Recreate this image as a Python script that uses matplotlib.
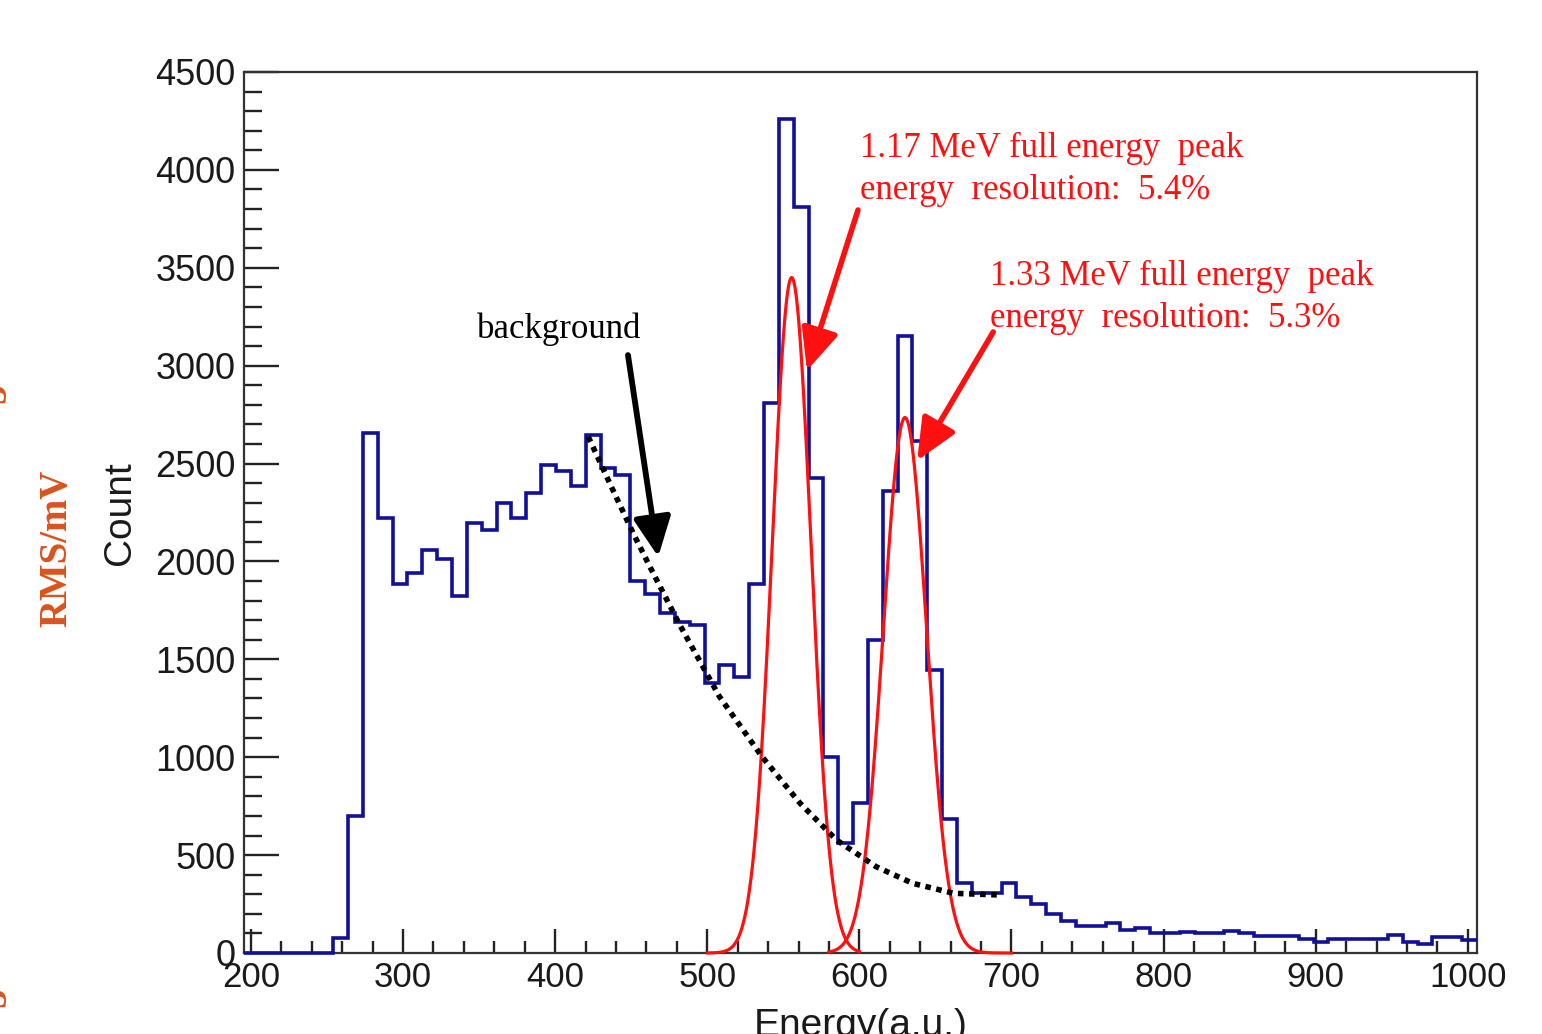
import numpy as np
import matplotlib.pyplot as plt

# histogram: 83 bins between 195.5 and 1006
x_lo, x_hi = 195.5, 1006.0
counts = [0, 0, 0, 0, 0, 0, 75, 700, 2655, 2222,
          1884, 1943, 2061, 2012, 1825, 2197, 2160, 2296, 2224, 2350,
          2495, 2462, 2386, 2647, 2477, 2440, 1900, 1835, 1735, 1690,
          1675, 1377, 1471, 1408, 1883, 2810, 4260, 3810, 2425, 1000,
          563, 764, 1599, 2360, 3150, 2615, 1445, 683, 356, 305,
          305, 356, 288, 249, 198, 165, 140, 138, 152, 117,
          129, 100, 100, 108, 100, 100, 112, 100, 85, 85,
          85, 73, 55, 70, 70, 70, 70, 92, 58, 46,
          83, 83, 66]

# gaussian fits of the two full energy peaks
peak_mean = [555.5, 630.0]
peak_height = [3450, 2735]
peak_res = [0.054, 0.053]          # FWHM / mean
peak_range = [(500, 600), (580, 700)]

# background curve
bg_x = [421.8, 437, 451.4, 462.3, 482, 508, 536, 561, 585, 611, 635, 662, 693]
bg_y = [2637, 2381, 2143, 1973, 1675, 1310, 1003, 765, 577, 441, 356, 305, 296]

xticks = [200, 300, 400, 500, 600, 700, 800, 900, 1000]
yticks = [0, 500, 1000, 1500, 2000, 2500, 3000, 3500, 4000, 4500]

sans = 'Liberation Sans'
serif = 'Liberation Serif'
blue = '#10109a'
red = '#ff1010'
orange = '#d9541e'

fig = plt.figure(figsize=(15.42, 10.34), dpi=100)
ax = fig.add_axes([244 / 1542, 1 - 953 / 1034, (1477 - 244) / 1542, (953 - 72) / 1034])

edges = np.linspace(x_lo, x_hi, len(counts) + 1)
ax.stairs(counts, edges, baseline=None, color=blue, lw=2.6, zorder=3, clip_on=False)

for m, h, r, (a, b) in zip(peak_mean, peak_height, peak_res, peak_range):
    sig = r * m / 2.3548
    xx = np.linspace(a, b, 400)
    ax.plot(xx, h * np.exp(-0.5 * ((xx - m) / sig) ** 2), color=red, lw=2.3,
            zorder=4, clip_on=False)

ax.plot(bg_x, bg_y, color='black', lw=4, linestyle=(0, (1.0, 1.0)), zorder=5)

ax.set_xlim(x_lo, x_hi)
ax.set_ylim(0, 4500)
ax.set_xticks(xticks)
ax.set_yticks(yticks)
ax.set_xticks(np.arange(200, 1001, 20), minor=True)
ax.set_yticks(np.arange(0, 4501, 100), minor=True)
ax.tick_params(axis='both', which='both', direction='in', top=False, right=False,
               color='#222222')
ax.tick_params(axis='y', which='major', length=25, width=1.7, pad=6, labelsize=26)
ax.tick_params(axis='y', which='minor', length=13, width=1.7)
ax.tick_params(axis='x', which='major', length=17, width=1.7, pad=6, labelsize=25)
ax.tick_params(axis='x', which='minor', length=8.5, width=1.7)
for lab in ax.get_xticklabels() + ax.get_yticklabels():
    lab.set_fontfamily(sans)
    lab.set_color('#1a1a1a')
for sp in ax.spines.values():
    sp.set_linewidth(1.6)
    sp.set_color('#333333')

# annotations
ax.text(600.4, 4065, '1.17 MeV full energy  peak', color=red, family=serif, fontsize=25)
ax.text(600.4, 3850, 'energy  resolution:  5.4%', color=red, family=serif, fontsize=25)
ax.text(686, 3410, '1.33 MeV full energy  peak', color=red, family=serif, fontsize=25)
ax.text(686, 3195, 'energy  resolution:  5.3%', color=red, family=serif, fontsize=25)
ax.text(348.6, 3140, 'background', color='black', family=serif, fontsize=25)

arrow_red = dict(arrowstyle='-|>,head_length=0.85,head_width=0.38', color=red,
                 lw=4, mutation_scale=30, shrinkA=0, shrinkB=0)
ax.annotate('', xy=(565.5, 2975), xytext=(599.1, 3795), arrowprops=arrow_red)
ax.annotate('', xy=(638, 2515), xytext=(688, 3172), arrowprops=arrow_red)
arrow_blk = dict(arrowstyle='-|>,head_length=0.8,head_width=0.38', color='black',
                 lw=4.2, mutation_scale=30, shrinkA=0, shrinkB=0)
ax.annotate('', xy=(467.8, 2024), xytext=(447.9, 3054), arrowprops=arrow_blk)

# axis titles
fig.text(120 / 1542, 1 - 513 / 1034, 'Count', rotation=90, ha='center', va='center',
         family=sans, fontsize=28, color='#1a1a1a')
fig.text(861 / 1542, 1 - 1036 / 1034, 'Energy(a.u.)', ha='center', va='baseline',
         family=sans, fontsize=28, color='#1a1a1a')
fig.text(57 / 1542, 1 - 548 / 1034, 'RMS/mV', rotation=90, ha='center', va='center',
         family=serif, fontsize=28, fontweight='bold', color=orange)
fig.text(-4 / 1542, 1 - 393 / 1034, '5', rotation=90, ha='center', va='center',
         family=serif, fontsize=28, fontweight='bold', color=orange)
fig.text(-4 / 1542, 1 - 997 / 1034, '5', rotation=90, ha='center', va='center',
         family=serif, fontsize=28, fontweight='bold', color=orange)

fig.savefig('out.png', dpi=100)
